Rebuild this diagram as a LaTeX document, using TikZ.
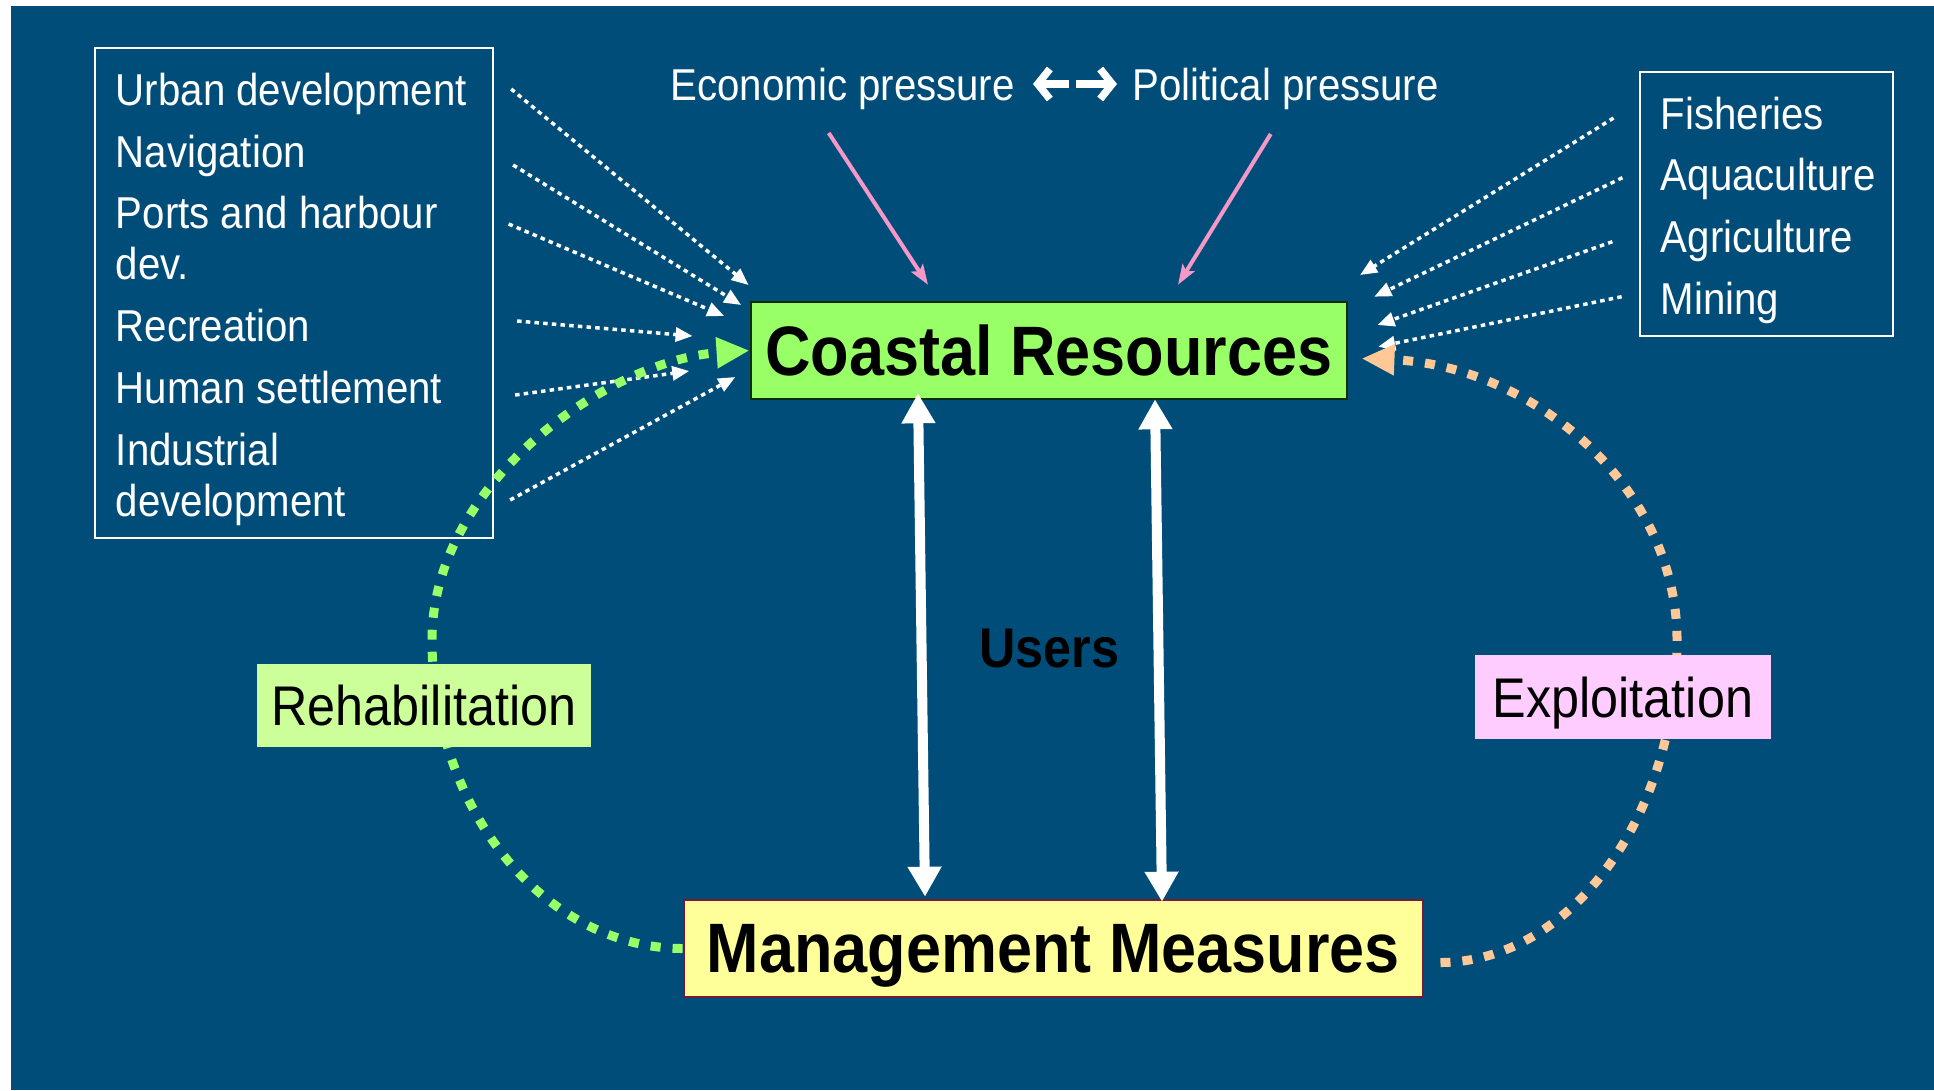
\documentclass[tikz,border=0pt]{standalone}
\usepackage{fontspec}
\usepackage{xcolor}
\usepackage{tikz}
\usetikzlibrary{arrows.meta,positioning}
\newfontfamily\narrowfont[FakeStretch=0.9]{Liberation Sans}
\definecolor{SeaBlue}{HTML}{004D79}
\definecolor{ResourceGreen}{HTML}{99FF66}
\definecolor{ResourceEdge}{HTML}{0F2E05}
\definecolor{MeasureYellow}{HTML}{FFFF99}
\definecolor{MeasureEdge}{HTML}{7A1838}
\definecolor{RehabGreen}{HTML}{CCFF99}
\definecolor{ExploitPink}{HTML}{FFCCFF}
\definecolor{PressurePink}{HTML}{F598C8}
\definecolor{ExploitPeach}{HTML}{FFC896}
\tikzset{
  figure/.style={x=0.01cm,y=-0.01cm,font=\narrowfont},
  listbox/.style={draw=white,line width=0.02cm,text=white,align=left,inner xsep=0.21cm,
    font=\narrowfont\fontsize{12.7}{14.5}\selectfont,
    execute at begin node={\spaceskip=0pt\xspaceskip=0pt\rule{0pt}{0.45cm}}},
  keybox/.style={line width=0.025cm,minimum height=0.97cm,text depth=0pt,
    font=\narrowfont\bfseries\fontsize{19.9}{22}\selectfont},
  phase/.style={inner sep=0pt,text depth=0pt,font=\narrowfont\fontsize{15.9}{18}\selectfont},
  feed/.style={draw=white,line width=0.035cm,dash pattern=on 0.045cm off 0.042cm,
    -{Triangle[length=0.17cm,width=0.14cm]}},
  press/.style={draw=PressurePink,line width=0.04cm,-{Stealth[length=0.2cm,width=0.14cm,inset=0.04cm]}},
  useflow/.style={draw=white,line width=0.1cm,
    {Triangle[length=0.3cm,width=0.32cm]}-{Triangle[length=0.3cm,width=0.32cm]}},
  loopflow/.style={line width=0.09cm,dash pattern=on 0.1cm off 0.12cm,
    -{Triangle[length=0.33cm,width=0.29cm]}},
  dual/.style={draw=white,line width=0.075cm,-{Straight Barb[length=0.12cm,width=0.3cm]}},
}

\begin{document}
\begin{tikzpicture}[figure]
  \useasboundingbox (0,0) rectangle (1934,1090);
  \fill[SeaBlue] (11,6) rectangle (1934,1090);

  % the two main boxes and the users in between
  \node[keybox,draw=ResourceEdge,fill=ResourceGreen,minimum width=5.96cm] (coast) at (1049,350.5)
    {Coastal Resources};
  \node[keybox,draw=MeasureEdge,fill=MeasureYellow,minimum width=7.39cm] (mgmt) at (1053.5,948.5)
    {Management Measures};
  \node[font=\narrowfont\bfseries\fontsize{15.9}{18}\selectfont] (users) at (1049.5,649) {Users};

  % pressures on top
  \node[anchor=base west,inner sep=0pt,text=white,font=\narrowfont\fontsize{12.7}{14.5}\selectfont]
    (econ) at (670,100) {Economic pressure};
  \node[anchor=base west,inner sep=0pt,text=white,font=\narrowfont\fontsize{12.7}{14.5}\selectfont]
    (polit) at (1132,100) {Political pressure};
  \coordinate (swap) at (1072.5,84);
  \draw[dual] ([shift={(-3.5,0)}]swap) -- ([shift={(-39.5,0)}]swap);
  \draw[dual] ([shift={(3.5,0)}]swap) -- ([shift={(44.5,0)}]swap);
  \draw[press] ([shift={(-14,23)}]econ.south) -- ([shift={(-121,-16)}]coast.north);
  \draw[press] ([shift={(-15,24)}]polit.south) -- ([shift={(129,-16)}]coast.north);

  % sector lists
  \node[listbox,text width=3.56cm,minimum height=4.84cm] (uses) at (294,293)
    {Urban development\\[3.1pt] Navigation\\[3.1pt] Ports and harbour\\ dev.\\[3.1pt]
     Recreation\\[3.1pt] Human settlement\\[3.1pt] Industrial\\ development};
  \node[listbox,text width=2.11cm,minimum height=2.58cm] (sectors) at (1766.5,204)
    {Fisheries\\[3.1pt] Aquaculture\\[3.1pt] Agriculture\\[3.1pt] Mining};

  \foreach \sx/\sy/\ex/\ey in {17/-204/-1/-65.5, 19/-128/-8.4/-45.5, 14.5/-69/-25.4/-34.5,
      23/28/-57/-14.5, 21/102/-60.3/20.5, 16/207/-14.2/26.5}
    \draw[feed] ([shift={(\sx,\sy)}]uses.east) -- ([shift={(\ex,\ey)}]coast.west);
  \foreach \sx/\sy/\ex/\ey in {-25.4/-86/11.6/-75.5, -16.5/-26.3/25.8/-53.8,
      -26.6/37.7/29/-25.5, -17.3/92.7/29.8/-3.8}
    \draw[feed] ([shift={(\sx,\sy)}]sectors.west) -- ([shift={(\ex,\ey)}]coast.east);

  % users link both boxes
  \draw[useflow] ([shift={(-131,-7)}]coast.south) -- ([shift={(-128.5,-2)}]mgmt.north);
  \draw[useflow] ([shift={(106,-1)}]coast.south) -- ([shift={(108.5,3)}]mgmt.north);

  % the cycle
  \draw[loopflow,draw=ResourceGreen,-{Triangle[length=0.33cm,width=0.29cm,fill=ResourceGreen]}]
    (mgmt.west) .. controls (544,948) and (432,809) .. (432,640)
    .. controls (432,482) and (610,360) .. (coast.west);
  \draw[loopflow,draw=ExploitPeach]
    ([shift={(16,14)}]mgmt.east) .. controls (1570,962) and (1677,817) .. (1677,640)
    .. controls (1677,485) and (1530,365) .. ([shift={(13,8)}]coast.east);

  \node[phase,fill=RehabGreen,minimum width=3.34cm,minimum height=0.83cm] (rehab) at (424,705.5)
    {Rehabilitation};
  \node[phase,fill=ExploitPink,minimum width=2.96cm,minimum height=0.84cm] (exploit) at (1623,697)
    {Exploitation};
\end{tikzpicture}
\end{document}
